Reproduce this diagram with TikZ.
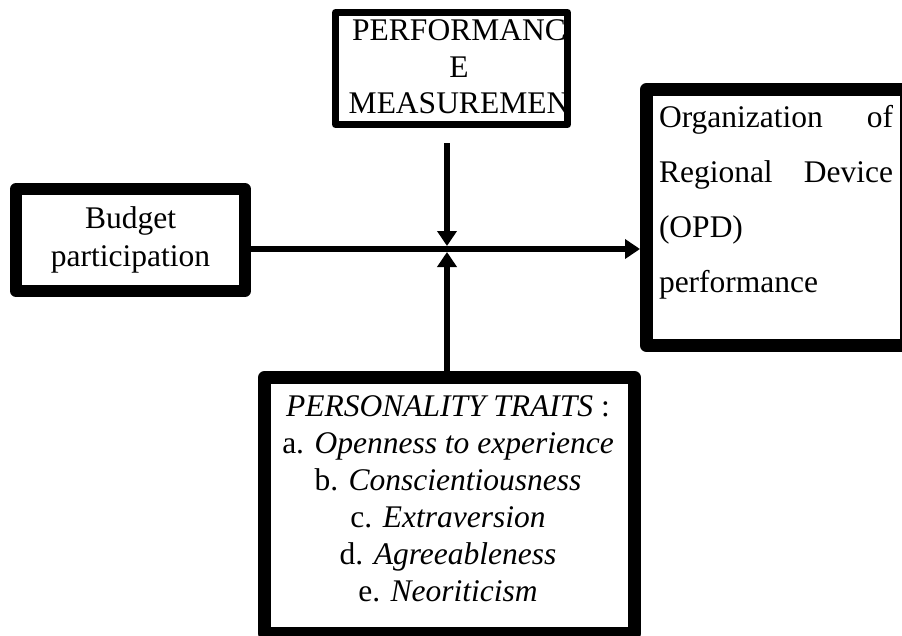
\documentclass[tikz,border=0pt]{standalone}
\usepackage{fontspec}
\setmainfont{Liberation Serif}
\usetikzlibrary{arrows.meta}

\begin{document}
\begin{tikzpicture}[
            x=1pt, y=-1pt,
            frame/.style={draw, line width=#1, line join=round, inner sep=0pt},
            link/.style={line width=6pt},
            tip/.style={-{Triangle[length=15pt,width=19pt]}},
            body/.style={font=\fontsize{31.5}{37}\selectfont, align=center},
            ]
            \clip (0,0) rectangle (902,635);
            % boxes
            \node[frame=7pt, minimum width=232pt, minimum height=112pt] (perf) at (451.5,68.5) {};
            \begin{scope}
                \clip (339,16) rectangle (564,121);
                \node[body, font=\fontsize{31.5}{36.5}\selectfont] (perftext) at (459,67) {PERFORMANC\\E\\MEASUREMEN};
            \end{scope}
            \node[frame=12pt, minimum width=229pt, minimum height=102pt, body, font=\fontsize{31.5}{38}\selectfont] (budget) at (130.5,240) {Budget\\participation};
            \node[frame=13pt, minimum width=260pt, minimum height=256pt] (opd) at (776.5,217.5) {};
            \node[text width=234pt, align=left, inner sep=0pt, font=\fontsize{31.5}{55}\selectfont] (opdtext) at (776,202)
                {Organization\hfill of\\Regional\hfill Device\\(OPD)\\performance};
            \node[frame=13pt, minimum width=370pt, minimum height=256pt] (traits) at (449.5,505.5) {};
            \node[body] (traitstext) at (448,499) {\textit{PERSONALITY TRAITS} :\\
                a. \textit{Openness to experience}\\
                b. \textit{Conscientiousness}\\
                c. \textit{Extraversion}\\
                d. \textit{Agreeableness}\\
                e. \textit{Neoriticism}};
            % arrows meeting on the main line
            \coordinate (hub) at (447,249);
            \draw[link, tip] (budget.east |- hub) -- (opd.west |- hub);
            \draw[link, tip, shorten <=15pt, shorten >=3pt] (perf.south -| hub) -- (hub);
            \draw[link, tip, shorten >=3pt] (traits.north -| hub) -- (hub);
        \end{tikzpicture}
\end{document}
